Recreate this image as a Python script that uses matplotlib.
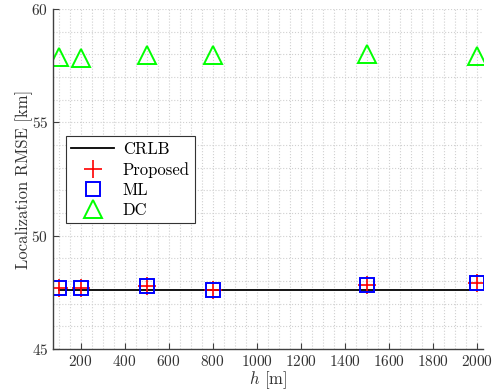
import numpy as np
import matplotlib.pyplot as plt
from matplotlib.ticker import MultipleLocator

plt.rcParams['font.family'] = ['cmr10', 'DejaVu Serif']
plt.rcParams['mathtext.fontset'] = 'cm'
plt.rcParams['axes.formatter.use_mathtext'] = True

h = [100, 200, 500, 800, 1500, 2000]
crlb = [47.6, 47.6, 47.6, 47.6, 47.6, 47.6]
proposed = [47.67, 47.71, 47.76, 47.62, 47.8, 47.9]
ml = [47.67, 47.71, 47.76, 47.62, 47.8, 47.9]
dc = [57.88, 57.84, 57.96, 57.96, 58.02, 57.92]

fig = plt.figure(figsize=(4.96, 3.89), dpi=100)
ax = fig.add_axes([0.107, 0.103, 0.867, 0.874])

ax.plot(h, crlb, '-', color='black', lw=1.3, label='CRLB')
ax.plot(h, proposed, '+', color='red', ms=13, mew=1.2, ls='none', label='Proposed')
ax.plot(h, ml, 's', mfc='none', mec='blue', ms=10, mew=1.4, ls='none', label='ML')
ax.plot(h, dc, '^', mfc='none', mec='#00ff00', ms=13, mew=1.4, ls='none', label='DC')

ax.set_xlim(75, 2030)
ax.set_ylim(45, 60)
ax.xaxis.set_major_locator(MultipleLocator(200))
ax.xaxis.set_minor_locator(MultipleLocator(50))
ax.yaxis.set_major_locator(MultipleLocator(5))
ax.yaxis.set_minor_locator(MultipleLocator(1))
ax.grid(which='both', ls=':', color='#d0d0d0', lw=0.8)
ax.set_axisbelow(True)

for s in ['top', 'right']:
    ax.spines[s].set_visible(False)
for s in ['left', 'bottom']:
    ax.spines[s].set_color('#404040')
    ax.spines[s].set_linewidth(1.0)
ax.tick_params(which='both', direction='in', colors='#404040', labelsize=11)
ax.tick_params(which='minor', length=0)
ax.tick_params(which='major', length=4)
for lbl in ax.get_xticklabels() + ax.get_yticklabels():
    lbl.set_color('#333333')

ax.set_xlabel(r'$h$ [m]', fontsize=12, color='#333333', labelpad=0)
ax.set_ylabel('Localization RMSE [km]', fontsize=12, color='#333333', labelpad=-1)

leg = ax.legend(loc='upper left', bbox_to_anchor=(0.03, 0.625), fontsize=12,
                fancybox=False, edgecolor='#333333', framealpha=1, borderaxespad=0,
                handlelength=2.6, borderpad=0.3, labelspacing=0.3, handletextpad=0.5)
leg.get_frame().set_linewidth(0.8)

fig.savefig('out.png', dpi=100)
